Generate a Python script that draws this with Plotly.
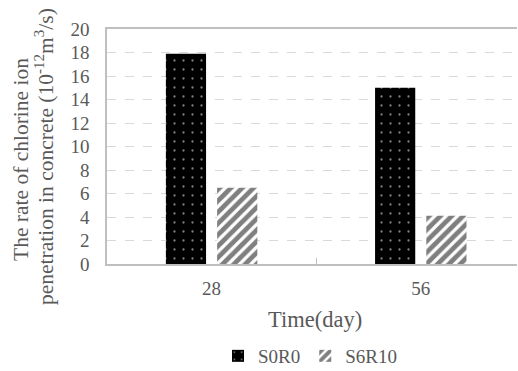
import plotly.graph_objects as go

categories = ["28", "56"]
s0r0 = [17.9, 15.0]
s6r10 = [6.5, 4.1]
y_ticks = [0, 2, 4, 6, 8, 10, 12, 14, 16, 18, 20]

FONT = "Liberation Serif"
GREY = "#595959"
xpos = list(range(len(categories)))

PL, PR, PT, PB = 107, 517, 29, 264
PW, PH = PR - PL, PB - PT


def px_x(x):
    return (x - PL) / PW


def px_y(y):
    return (PB - y) / PH


fig = go.Figure()
fig.add_trace(go.Bar(
    x=xpos, y=s0r0, name="S0R0",
    marker=dict(color="black", line=dict(width=0),
                pattern=dict(shape=".", fgcolor="white", bgcolor="black",
                             size=9, solidity=0.05, fillmode="overlay")),
))
fig.add_trace(go.Bar(
    x=xpos, y=s6r10, name="S6R10",
    marker=dict(color="white", line=dict(width=0),
                pattern=dict(shape="/", fgcolor="black", bgcolor="white",
                             size=8, solidity=0.6)),
))

fig.update_layout(
    width=518, height=371,
    margin=dict(l=PL, r=518 - PR, t=PT, b=371 - PB, autoexpand=False),
    paper_bgcolor="white", plot_bgcolor="white",
    barmode="group", bargap=0.51, bargroupgap=0.216,
    font=dict(family=FONT, size=19, color=GREY),
    showlegend=True,
    legend=dict(orientation="h", x=px_x(310), xanchor="center", y=px_y(375), yanchor="bottom",
                font=dict(family=FONT, size=19, color=GREY), itemwidth=30, traceorder="normal",
                bgcolor="rgba(0,0,0,0)"),
    xaxis=dict(
        range=[-0.5, 1.46], tickvals=xpos, ticktext=categories, ticks="",
        tickfont=dict(family=FONT, size=19, color=GREY),
        showline=True, linecolor="#bfbfbf", linewidth=1.5, mirror=True,
        showgrid=False, zeroline=False, ticklabelstandoff=6,
        minor=dict(tickvals=[0.5], ticks="inside", ticklen=6, tickcolor="#bfbfbf", showgrid=False),
    ),
    yaxis=dict(
        range=[0, 20], tickvals=y_ticks, ticks="",
        tickfont=dict(family=FONT, size=19, color=GREY),
        showline=True, linecolor="#bfbfbf", linewidth=1.5,
        showgrid=True, gridcolor="#d9d9d9", griddash="dash", gridwidth=1,
        zeroline=False, ticklabelstandoff=12,
    ),
    annotations=[
        dict(text="The rate of chlorine ion",
             xref="paper", yref="paper", x=px_x(21), y=px_y(160),
             xanchor="center", yanchor="middle", textangle=-90, showarrow=False,
             font=dict(size=21.5, color=GREY, family=FONT)),
        dict(text="penetration in concrete (10<sup>-12</sup>m<sup>3</sup>/s)",
             xref="paper", yref="paper", x=px_x(44), y=px_y(157),
             xanchor="center", yanchor="middle", textangle=-90, showarrow=False,
             font=dict(size=21.5, color=GREY, family=FONT)),
        dict(text="Time(day)", xref="paper", yref="paper", x=px_x(315),
             y=px_y(319), xanchor="center", yanchor="middle", showarrow=False,
             font=dict(size=22.5, color=GREY, family=FONT)),
    ],
)

fig.write_html("out.html")
